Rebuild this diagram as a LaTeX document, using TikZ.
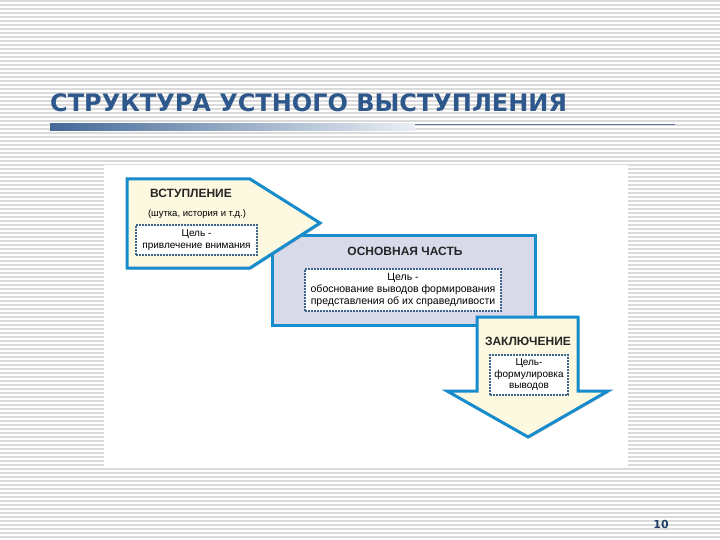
\documentclass[tikz,border=0pt]{standalone}
\usepackage{fontspec}
\setmainfont{Liberation Sans}
\newfontfamily\titlefont{DejaVu Sans}
\usetikzlibrary{shadows}
\definecolor{titleblue}{RGB}{46,88,140}
\definecolor{edgeblue}{RGB}{22,140,205}
\definecolor{cream}{RGB}{253,249,224}
\definecolor{lavender}{RGB}{216,218,234}
\definecolor{dashblue}{RGB}{60,100,140}
\definecolor{stripe}{RGB}{218,218,218}

\begin{document}
\begin{tikzpicture}[x=1pt,y=-1pt,
    stage/.style={draw=edgeblue, line width=3pt, line join=miter,
      drop shadow={opacity=0.35, shadow xshift=1.5pt, shadow yshift=-1.5pt}},
    heading/.style={font=\bfseries\fontsize{12}{14}\selectfont, text=black!85},
    aim/.style={draw=dashblue, dash pattern=on 2pt off 1pt, line width=1.2pt,
      fill=white, align=center, font=\fontsize{10}{11.5}\selectfont, inner sep=2pt}]
    \useasboundingbox (0,0) rectangle (720,540);

    % slide background
    \fill[white] (0,0) rectangle (720,540);
    \foreach \y in {1,5,...,537}
        \draw[stripe, line width=1.2pt] (0,\y) -- (720,\y);

    \node[anchor=base west, inner sep=0pt, text=titleblue,
        font=\titlefont\bfseries\fontsize{24}{28}\selectfont] (title) at (50,112)
        {СТРУКТУРА УСТНОГО ВЫСТУПЛЕНИЯ};
    \shade[left color=titleblue!90, right color=titleblue!10] (50,124) rectangle (415,131);
    \draw[titleblue!80, line width=1pt] (415,124.5) -- (675,124.5);

    % figure
    \fill[white] (104,165) rectangle (628,468);

    \draw[stage, fill=lavender] (272,235) rectangle (535,325);
    \draw[stage, fill=cream] (127,179) -- (250,179) -- (320,223) -- (250,268)
        -- (127,268) -- cycle;
    \draw[stage, fill=cream] (477,317) -- (578,317) -- (578,391) -- (608,391)
        -- (528,437) -- (447,391) -- (477,391) -- cycle;

    \node[heading] (intro) at (191,193) {ВСТУПЛЕНИЕ};
    \node[font=\fontsize{9.5}{11}\selectfont] (introjoke) at (197,214)
        {(шутка, история и т.д.)};
    \node[aim, minimum width=121pt, minimum height=30pt] (introaim) at (196.5,240)
        {Цель -\\привлечение внимания};

    \node[heading] (main) at (405,251) {ОСНОВНАЯ ЧАСТЬ};
    \node[aim, minimum width=196pt, minimum height=42pt,
        font=\fontsize{10.5}{12}\selectfont] (mainaim) at (403,290)
        {Цель -\\обоснование выводов формирования\\представления об их справедливости};

    \node[heading] (outro) at (528,341) {ЗАКЛЮЧЕНИЕ};
    \node[aim, minimum width=78pt, minimum height=40pt] (outroaim) at (529,375)
        {Цель-\\формулировка\\выводов};

    \node[text=titleblue!70!black, font=\titlefont\bfseries\fontsize{11}{13}\selectfont]
        (page) at (661,524) {10};
\end{tikzpicture}
\end{document}
